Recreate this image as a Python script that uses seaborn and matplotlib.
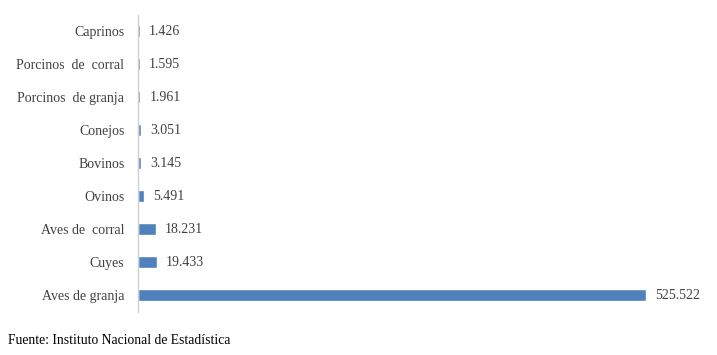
import numpy as np
import pandas as pd
import seaborn as sns
import matplotlib.pyplot as plt

# Data
categorias = ['Caprinos', 'Porcinos  de  corral', 'Porcinos  de granja', 'Conejos',
              'Bovinos', 'Ovinos', 'Aves de  corral', 'Cuyes', 'Aves de granja']
valores = [1426, 1595, 1961, 3051, 3145, 5491, 18231, 19433, 525522]
etiquetas = ['1.426', '1.595', '1.961', '3.051', '3.145', '5.491', '18.231', '19.433', '525.522']

df = pd.DataFrame({'cat': categorias, 'val': valores})

sns.set_style('white')
plt.rcParams['font.family'] = ['Liberation Serif', 'DejaVu Serif']

fig = plt.figure(figsize=(7.17, 3.55), dpi=100)
ax = fig.add_axes([0.193, 0.1225, 0.708, 0.8365])

sns.barplot(data=df, x='val', y='cat', orient='h', color='#4F81BD',
            saturation=1, width=0.36, ax=ax)

ax.set_xlim(0, max(valores))
ax.set_ylim(len(categorias) - 0.5, -0.5)
for s in ['top', 'right', 'bottom']:
    ax.spines[s].set_visible(False)
ax.spines['left'].set_color('#d0d0d0')
ax.spines['left'].set_linewidth(1.0)
ax.set_xticks([])
ax.set_xlabel('')
ax.set_ylabel('')
ax.tick_params(axis='y', length=0, pad=10, labelsize=10, labelcolor='#404040')

for i, (v, t) in enumerate(zip(valores, etiquetas)):
    ax.annotate(t, (v, i), xytext=(6.5, 0), textcoords='offset points',
                va='center', ha='left', fontsize=10, color='#404040',
                annotation_clip=False)

fig.text(0.011, 0.042, 'Fuente: Instituto Nacional de Estadística',
         fontsize=9.8, color='black', ha='left', va='center')

fig.savefig('out.png', dpi=100, facecolor='white')
